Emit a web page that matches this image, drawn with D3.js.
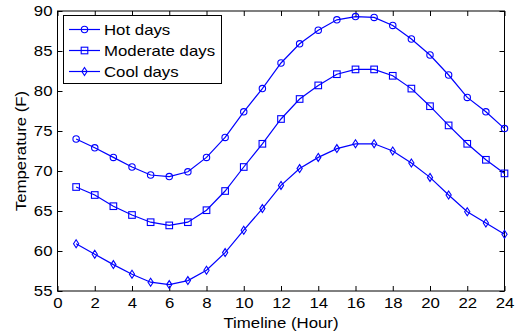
<!DOCTYPE html>
<html><head><meta charset="utf-8">
<script src="https://cdn.jsdelivr.net/npm/d3@7"></script>
<style>body{margin:0;background:#fff}text{font-family:"Liberation Sans",Arial,sans-serif;fill:#000}</style>
</head><body><svg id="c" width="516" height="336"></svg>
<script>
const hours = d3.range(1, 25);
const hotDays = [74.0,72.9,71.7,70.5,69.5,69.3,69.9,71.7,74.2,77.4,80.3,83.5,85.9,87.6,88.9,89.3,89.2,88.2,86.5,84.5,82.0,79.2,77.4,75.3];
const moderateDays = [68.0,67.0,65.6,64.5,63.6,63.2,63.6,65.1,67.5,70.5,73.4,76.5,79.0,80.7,82.1,82.7,82.7,81.9,80.3,78.1,75.7,73.4,71.4,69.7];
const coolDays = [60.9,59.6,58.3,57.1,56.1,55.8,56.3,57.6,59.8,62.6,65.3,68.2,70.3,71.7,72.8,73.4,73.4,72.5,71.0,69.2,67.0,64.9,63.5,62.1];
const xTicks = d3.range(0, 25, 2);
const yTicks = [55,60,65,70,75,80,85,90];
const seriesNames = ["Hot days","Moderate days","Cool days"];

const color = "#0000ff";
const SX = 1.2; // horizontal text stretch
const L = 57.5, R = 504.5, T = 11, B = 291;
const svg = d3.select("#c");
const x = d3.scaleLinear().domain([0,24]).range([L,R]);
const y = d3.scaleLinear().domain([55,90]).range([B,T]);

function stretch(sel){
  sel.each(function(){
    const t = d3.select(this);
    const xv = +t.attr("x") || 0;
    t.attr("x", xv / SX).attr("transform", `scale(${SX},1)`);
  });
}

const g = svg.append("g");
g.append("g").attr("transform",`translate(0,${B})`)
 .call(d3.axisBottom(x).tickValues(xTicks).tickSizeInner(-5).tickSizeOuter(0).tickPadding(7))
 .call(a=>{a.select(".domain").remove();a.selectAll("text").style("font-size","14px").call(stretch);});
g.append("g").attr("transform",`translate(0,${T})`)
 .call(d3.axisTop(x).tickValues(xTicks).tickSizeInner(-5).tickSizeOuter(0).tickFormat(""))
 .call(a=>a.select(".domain").remove());
g.append("g").attr("transform",`translate(${L},0)`)
 .call(d3.axisLeft(y).tickValues(yTicks).tickSizeInner(-5).tickSizeOuter(0).tickPadding(5))
 .call(a=>{a.select(".domain").remove();a.selectAll("text").style("font-size","14px").call(stretch);});
g.append("g").attr("transform",`translate(${R},0)`)
 .call(d3.axisRight(y).tickValues(yTicks).tickSizeInner(-5).tickSizeOuter(0).tickFormat(""))
 .call(a=>a.select(".domain").remove());
g.selectAll(".tick line").attr("stroke","#000");
g.append("rect").attr("x",L).attr("y",T).attr("width",R-L).attr("height",B-T)
 .attr("fill","none").attr("stroke","#000").attr("stroke-width",1);

svg.append("text").attr("transform",`translate(${(L+R)/2},328) scale(${SX},1)`).attr("text-anchor","middle")
 .style("font-size","14px").text("Timeline (Hour)");
svg.append("text").attr("transform",`translate(26,${(T+B)/2}) rotate(-90) scale(${SX},1)`).attr("text-anchor","middle")
 .style("font-size","14px").text("Temperature (F)");

const line = d3.line().x((d,i)=>x(hours[i])).y(d=>y(d));
const data = [hotDays, moderateDays, coolDays];
function marker(sel, k){
  if(k===2){
    sel.append("path").attr("d","M0,-4L2.6,0L0,4L-2.6,0Z");
  } else if(k===1){
    sel.append("rect").attr("x",-3.3).attr("y",-3.3).attr("width",6.6).attr("height",6.6);
  } else {
    sel.append("circle").attr("r",3.2);
  }
}
data.forEach((vals,k)=>{
  svg.append("path").datum(vals).attr("d",line).attr("fill","none").attr("stroke",color).attr("stroke-width",1.2);
  vals.forEach((v,i)=>{
    const m = svg.append("g").attr("transform",`translate(${x(hours[i])},${y(v)})`)
      .attr("fill","none").attr("stroke",color).attr("stroke-width",1.1);
    marker(m,k);
  });
});

const lg = svg.append("g");
lg.append("rect").attr("x",63.5).attr("y",15.5).attr("width",158).attr("height",68)
 .attr("fill","#fff").attr("stroke","#000");
seriesNames.forEach((n,k)=>{
  const yy = 29.5 + k*21;
  lg.append("line").attr("x1",69).attr("x2",100).attr("y1",yy).attr("y2",yy).attr("stroke",color).attr("stroke-width",1.2);
  const m = lg.append("g").attr("transform",`translate(84.5,${yy})`).attr("fill","none").attr("stroke",color).attr("stroke-width",1.1);
  marker(m,k);
  lg.append("text").attr("transform",`translate(104,${yy}) scale(${SX},1)`).attr("dy","0.36em").style("font-size","14px").text(n);
});
</script></body></html>
